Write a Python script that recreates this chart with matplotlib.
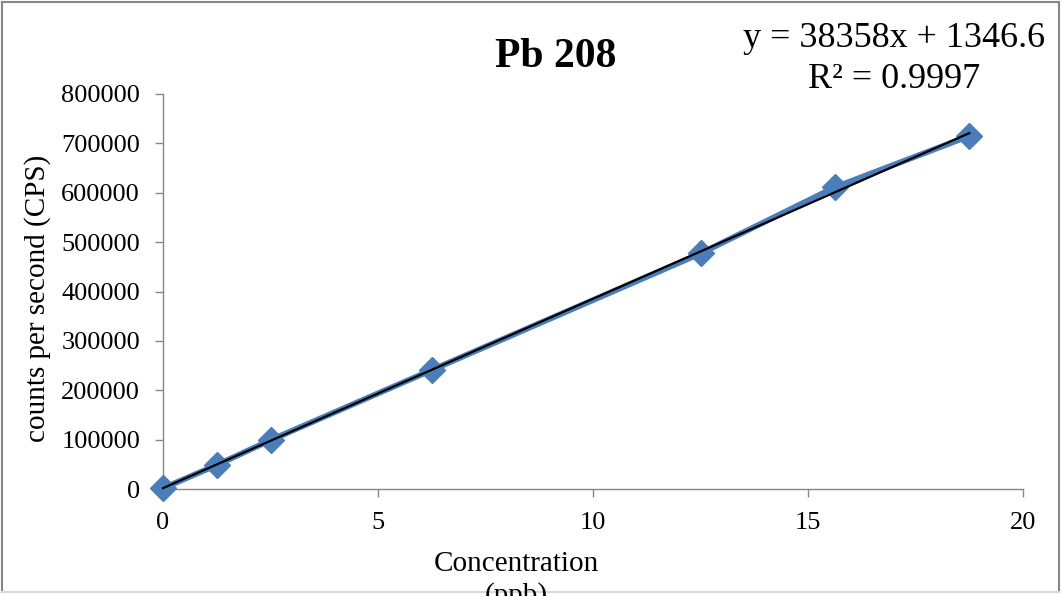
import numpy as np
import matplotlib.pyplot as plt
from matplotlib.lines import Line2D

# calibration standards for Pb 208
conc = [0, 1.25, 2.5, 6.25, 12.5, 15.625, 18.75]
cps = [1500, 48500, 99000, 241000, 477000, 611000, 715000]

x_ticks = [0, 5, 10, 15, 20]
y_ticks = [0, 100000, 200000, 300000, 400000, 500000, 600000, 700000, 800000]

title = 'Pb 208'
eq_text = 'y = 38358x + 1346.6\nR² = 0.9997'

plt.rcParams['font.family'] = ['Liberation Serif', 'DejaVu Serif']

fig = plt.figure(figsize=(10.61, 5.96), dpi=100)
ax = fig.add_axes([163/1061, 1 - 489/596, (1023-163)/1061, (489-94)/596])

ax.plot(conc, cps, color='#4a7ebb', lw=4.2, marker='D', markersize=13,
        markeredgecolor='#4a7ebb', zorder=3, clip_on=False)

# linear trendline
m, b = np.polyfit(conc, cps, 1)
xt = np.array([min(conc), max(conc)])
ax.plot(xt, m*xt + b, color='black', lw=1.6, zorder=4, clip_on=False)

ax.set_xlim(0, 20)
ax.set_ylim(0, 800000)
ax.set_xticks(x_ticks)
ax.set_yticks(y_ticks)
ax.tick_params(direction='out', length=5.5, width=1, color='#868686',
               labelsize=19)
ax.tick_params(axis='y', pad=11)
ax.tick_params(axis='x', pad=11)
for s in ['top', 'right']:
    ax.spines[s].set_visible(False)
for s in ['left', 'bottom']:
    ax.spines[s].set_color('#868686')
    ax.spines[s].set_linewidth(1)

fig.text(38/1061, 1 - 298/596, 'counts per second (CPS)', fontsize=21,
         rotation=90, ha='center', va='center')

fig.text(556/1061, 1 - 57/596, title, fontsize=30, fontweight='bold',
         ha='center', va='center')
fig.text(894/1061, 1 - 59/596, eq_text, fontsize=26, ha='center',
         va='center', linespacing=1.35)
fig.text(516/1061, 1 - 551/596, 'Concentration\n(ppb)', fontsize=21,
         ha='center', va='top', linespacing=1.25)

# chart border
fig.add_artist(Line2D([2/1061, 1059/1061], [1 - 2/596, 1 - 2/596],
                      transform=fig.transFigure, color='#868686', lw=1.5))
fig.add_artist(Line2D([2/1061, 2/1061], [1 - 2/596, 1 - 592/596],
                      transform=fig.transFigure, color='#868686', lw=1.5))
fig.add_artist(Line2D([1059/1061, 1059/1061], [1 - 2/596, 1 - 592/596],
                      transform=fig.transFigure, color='#868686', lw=1.5))
fig.add_artist(Line2D([2/1061, 1059/1061], [1 - 592/596, 1 - 592/596],
                      transform=fig.transFigure, color='#d9d9d9', lw=1.5))

fig.savefig('out.png', dpi=100)
